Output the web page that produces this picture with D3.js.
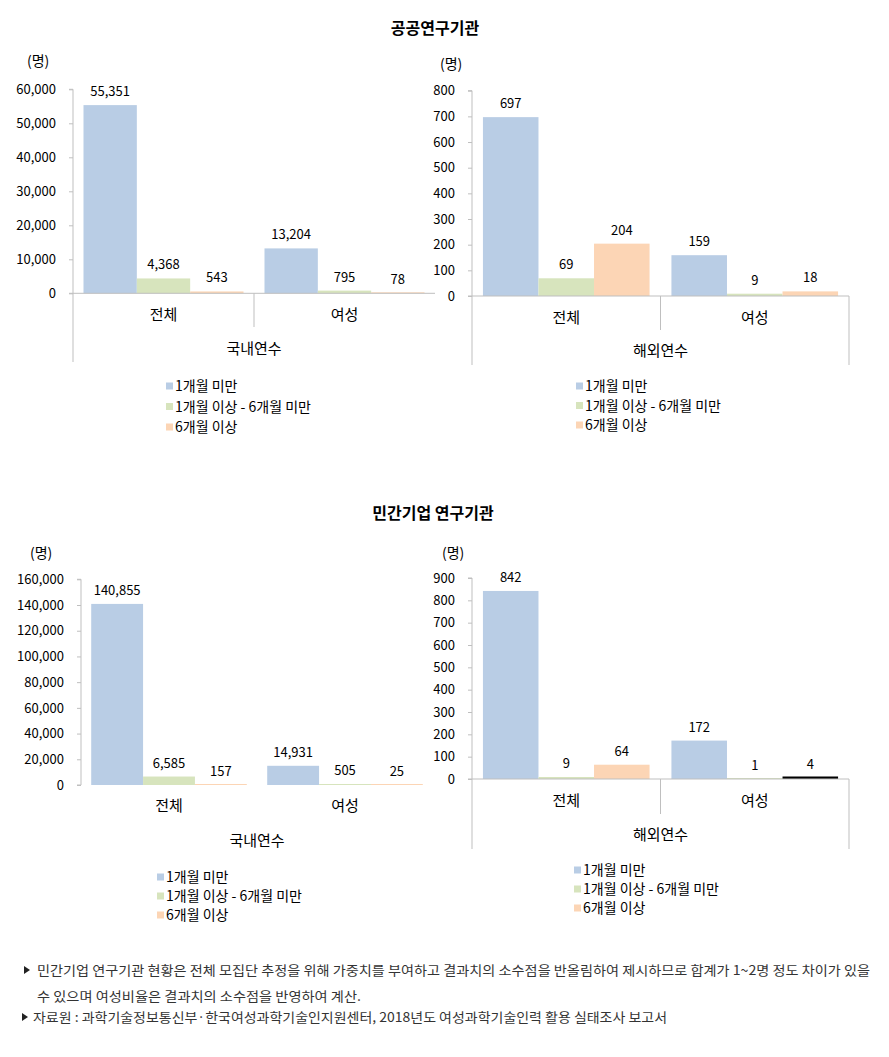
<!DOCTYPE html>
<html>
<head>
<meta charset="utf-8">
<script src="https://cdn.jsdelivr.net/npm/d3@7"></script>
<style>
    body { margin: 0; background: #fff; }
    svg text { font-family: "Noto Sans CJK KR", "Noto Sans", sans-serif; }
</style>
</head>
<body>
<svg id="chart" width="889" height="1057"></svg>
<script>
// ---------------- 데이터 ----------------
const categories = ['전체', '여성'];
const seriesNames = ['1개월 미만', '1개월 이상 - 6개월 미만', '6개월 이상'];
const seriesColors = ['#B9CDE5', '#D7E4BD', '#FCD5B5'];

// 공공연구기관
const pubDomestic = [[55351, 4368, 543], [13204, 795, 78]];
const pubAbroad = [[697, 69, 204], [159, 9, 18]];
// 민간기업 연구기관
const priDomestic = [[140855, 6585, 157], [14931, 505, 25]];
const priAbroad = [[842, 9, 64], [172, 1, 4]];

const pubDomesticTicks = [0, 10000, 20000, 30000, 40000, 50000, 60000];
const pubAbroadTicks = [0, 100, 200, 300, 400, 500, 600, 700, 800];
const priDomesticTicks = [0, 20000, 40000, 60000, 80000, 100000, 120000, 140000, 160000];
const priAbroadTicks = [0, 100, 200, 300, 400, 500, 600, 700, 800, 900];

const footnotes = [
    '민간기업 연구기관 현황은 전체 모집단 추정을 위해 가중치를 부여하고 결과치의 소수점을 반올림하여 제시하므로 합계가 1~2명 정도 차이가 있을',
    '수 있으며 여성비율은 결과치의 소수점을 반영하여 계산.',
    '자료원 : 과학기술정보통신부·한국여성과학기술인지원센터, 2018년도 여성과학기술인력 활용 실태조사 보고서'
];

const svg = d3.select('#chart');
const fmt = d3.format(',');
const axisColor = '#BFBFBF';

// 제목
svg.append('text').attr('x', 435).attr('y', 34).attr('text-anchor', 'middle')
    .attr('font-size', 16).attr('font-weight', 'bold').text('공공연구기관');
svg.append('text').attr('x', 433).attr('y', 519).attr('text-anchor', 'middle')
    .attr('font-size', 16).attr('font-weight', 'bold').text('민간기업 연구기관');

// 패널 하나 그리기
function drawPanel(p) {
    const g = svg.append('g');
    const y = d3.scaleLinear().domain([0, d3.max(p.ticks)]).range([p.yBot, p.yTop]);
    const x0 = d3.scaleBand().domain(categories).range([p.x0, p.x1])
        .paddingInner(0.116).paddingOuter(0.058);
    const x1 = d3.scaleBand().domain(d3.range(seriesNames.length)).range([0, x0.bandwidth()]);

    // y축
    const yAxis = d3.axisLeft(y).tickValues(p.ticks).tickFormat(fmt).tickSize(4).tickPadding(13);
    const ya = g.append('g').attr('transform', `translate(${p.x0},0)`).call(yAxis);
    ya.select('.domain').attr('stroke', axisColor).attr('d', `M-4,${p.yTop}H0V${p.yBot}H-4`);
    ya.selectAll('.tick line').attr('stroke', axisColor);
    ya.selectAll('.tick text').attr('font-size', 13).attr('fill', '#000')
        .attr('font-family', '"Noto Sans CJK KR", sans-serif');

    // 막대 (아주 작은 값도 1px 정도는 보이게)
    p.data.forEach((vals, ci) => {
        const gx = x0(categories[ci]);
        const isOverride = si => p.override && p.override[0] === ci && p.override[1] === si;
        g.selectAll(null).data(vals).join('rect')
            .attr('x', (d, si) => gx + x1(si))
            .attr('width', x1.bandwidth())
            .attr('height', (d, si) => isOverride(si) ? 2.5 : Math.max(p.yBot - y(d), d > 0 ? 1 : 0))
            .attr('y', (d, si) => p.yBot - (isOverride(si) ? 2.5 : Math.max(p.yBot - y(d), d > 0 ? 1 : 0)))
            .attr('fill', (d, si) => isOverride(si) ? p.override[2] : seriesColors[si]);
        g.selectAll(null).data(vals).join('text')
            .attr('x', (d, si) => gx + x1(si) + x1.bandwidth() / 2)
            .attr('y', d => y(d) - 9)
            .attr('text-anchor', 'middle').attr('font-size', 13).attr('fill', '#000')
            .text(d => fmt(d));
    });

    // x축 (기준선, 구분선)
    if (p.frame) {
        g.append('line').attr('x1', p.x0).attr('x2', p.x1).attr('y1', p.yBot).attr('y2', p.yBot)
            .attr('stroke', axisColor);
        g.append('line').attr('x1', p.x0).attr('x2', p.x0).attr('y1', p.yBot).attr('y2', p.frameBot)
            .attr('stroke', axisColor);
        const mid = (p.x0 + p.x1) / 2;
        g.append('line').attr('x1', mid).attr('x2', mid).attr('y1', p.yBot).attr('y2', p.divBot)
            .attr('stroke', axisColor);
        if (p.rightLine) {
            g.append('line').attr('x1', p.x1).attr('x2', p.x1).attr('y1', p.yBot).attr('y2', p.frameBot)
                .attr('stroke', axisColor);
        }
    }

    // 카테고리 라벨
    g.selectAll(null).data(categories).join('text')
        .attr('x', d => x0(d) + x0.bandwidth() / 2)
        .attr('y', p.catY)
        .attr('text-anchor', 'middle').attr('font-size', 15).attr('fill', '#000')
        .text(d => d);
    g.append('text').attr('x', (p.x0 + p.x1) / 2).attr('y', p.groupY)
        .attr('text-anchor', 'middle').attr('font-size', 15).attr('fill', '#000')
        .text(p.group);

    // 단위
    g.append('text').attr('x', p.unit[0]).attr('y', p.unit[1])
        .attr('font-size', 14).attr('fill', '#000').text('(명)');

    // 범례
    const lg = g.append('g').attr('transform', `translate(${p.legend[0]},${p.legend[1]})`);
    seriesNames.forEach((name, i) => {
        lg.append('rect').attr('x', 0).attr('y', i * p.legend[2] - 3.5).attr('width', 7).attr('height', 7)
            .attr('fill', seriesColors[i]);
        lg.append('text').attr('x', 9).attr('y', i * p.legend[2] + 5)
            .attr('font-size', 14).attr('fill', '#000').text(name);
    });
}

drawPanel({
    data: pubDomestic, ticks: pubDomesticTicks,
    x0: 73, x1: 435, yTop: 89.3, yBot: 293.3,
    frame: true, frameBot: 362, divBot: 327, rightLine: false,
    catY: 320, groupY: 354, group: '국내연수',
    unit: [27, 66], legend: [166, 386, 20.5]
});
drawPanel({
    data: pubAbroad, ticks: pubAbroadTicks,
    x0: 472, x1: 849, yTop: 90.7, yBot: 296,
    frame: true, frameBot: 365, divBot: 330, rightLine: true,
    catY: 323, groupY: 356, group: '해외연수',
    unit: [440, 69], legend: [576, 386, 19.5]
});
drawPanel({
    data: priDomestic, ticks: priDomesticTicks,
    x0: 81, x1: 433, yTop: 579.3, yBot: 785,
    frame: false,
    catY: 811, groupY: 846, group: '국내연수',
    unit: [30, 558], legend: [157, 877, 19]
});
drawPanel({
    data: priAbroad, ticks: priAbroadTicks,
    x0: 472, x1: 849, yTop: 578, yBot: 779,
    frame: true, frameBot: 849, divBot: 814, rightLine: true,
    catY: 806, groupY: 840, group: '해외연수',
    unit: [442, 558], legend: [574, 870, 19],
    override: [1, 2, '#000']
});

// 각주
const fn = svg.append('g').attr('font-size', 13).attr('fill', '#333');
const fnLines = [
    { x: 37, y: 975, len: 833, tri: 24 },
    { x: 37, y: 1001, len: 324, tri: null },
    { x: 33, y: 1022, len: 634, tri: 22 }
];
fnLines.forEach((l, i) => {
    if (l.tri !== null) {
        fn.append('path').attr('d', `M${l.tri},${l.y - 9}L${l.tri + 6},${l.y - 5}L${l.tri},${l.y - 1}Z`)
            .attr('fill', '#222');
    }
    fn.append('text').attr('x', l.x).attr('y', l.y)
        .attr('textLength', l.len).attr('lengthAdjust', 'spacingAndGlyphs')
        .text(footnotes[i]);
});
</script>
</body>
</html>
